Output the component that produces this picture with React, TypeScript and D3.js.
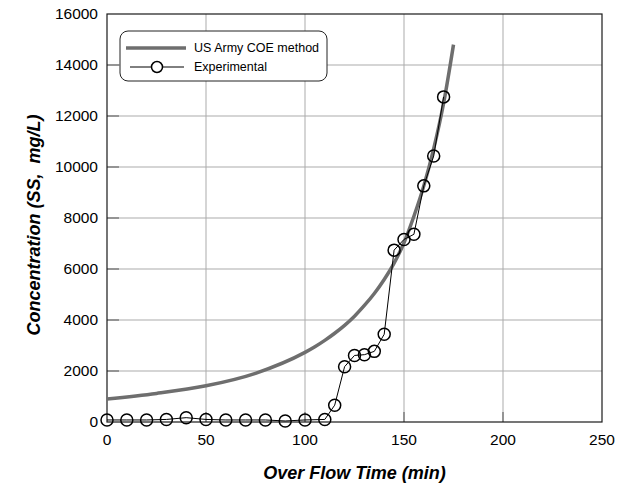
import React from "react";
import * as d3 from "d3";

const expTime = [0, 10, 20, 30, 40, 50, 60, 70, 80, 90, 100, 110, 115, 120, 125, 130, 135, 140, 145, 150, 155, 160, 165, 170];
const expConc = [80, 80, 80, 100, 170, 100, 80, 80, 80, 40, 80, 100, 660, 2170, 2610, 2640, 2770, 3440, 6740, 7160, 7360, 9260, 10430, 12750];

const coeTime = [0, 25, 50, 75, 100, 105, 110, 115, 120, 125, 130, 135, 140, 145, 150, 155, 160, 165, 170, 175];
const coeConc = [900, 1120, 1420, 1910, 2730, 2950, 3200, 3480, 3790, 4150, 4570, 5040, 5590, 6230, 7030, 8070, 9260, 10720, 12500, 14800];

const xTicks = [0, 50, 100, 150, 200, 250];
const yTicks = [0, 2000, 4000, 6000, 8000, 10000, 12000, 14000, 16000];

const legendLabels = ["US Army COE method", "Experimental"];
const xTitle = "Over Flow Time (min)";
const yTitle = "Concentration (SS,  mg/L)";

export default function App() {
  const W = 624, H = 486;
  const left = 107, right = 602, top = 14, bottom = 422;
  const x = d3.scaleLinear().domain([0, 250]).range([left, right]);
  const y = d3.scaleLinear().domain([0, 16000]).range([bottom, top]);

  const coeLine = d3.line<number>()
    .x((_, i) => x(coeTime[i]))
    .y((d) => y(d))
    .curve(d3.curveMonotoneX)(coeConc) || "";
  const expLine = d3.line<number>()
    .x((_, i) => x(expTime[i]))
    .y((d) => y(d))(expConc) || "";

  const font = "'Liberation Sans', Arial, sans-serif";
  const gridColor = "#ababab";
  const tickColor = "#6a6a6a";

  return (
    <svg width={W} height={H} style={{ position: "absolute", left: 0, top: 0, background: "#fff" }} fontFamily={font}>
      <rect x={0} y={0} width={W} height={H} fill="#fff" />
      {xTicks.slice(1, -1).map((t) => (
        <line key={"gx" + t} x1={x(t)} x2={x(t)} y1={top} y2={bottom} stroke={gridColor} strokeWidth={1} />
      ))}
      {yTicks.slice(1, -1).map((t) => (
        <line key={"gy" + t} x1={left} x2={right} y1={y(t)} y2={y(t)} stroke={gridColor} strokeWidth={1} />
      ))}
      {xTicks.slice(1, -1).map((t) => (
        <line key={"tx" + t} x1={x(t)} x2={x(t)} y1={bottom} y2={bottom - 10} stroke={tickColor} strokeWidth={1.2} />
      ))}
      {yTicks.slice(1, -1).map((t) => (
        <line key={"ty" + t} x1={left} x2={left + 12} y1={y(t)} y2={y(t)} stroke={tickColor} strokeWidth={1.2} />
      ))}
      <rect x={left} y={top} width={right - left} height={bottom - top} fill="none" stroke="#1a1a1a" strokeWidth={1.2} />
      {xTicks.map((t) => (
        <text key={"lx" + t} x={x(t)} y={445} textAnchor="middle" fontSize={15.5} fill="#000">{t}</text>
      ))}
      {yTicks.map((t) => (
        <text key={"ly" + t} x={98} y={y(t)} dy="0.35em" textAnchor="end" fontSize={15.5} fill="#000">{t}</text>
      ))}
      <text x={(left + right) / 2} y={479} textAnchor="middle" fontSize={18} fontWeight="bold" fontStyle="italic">{xTitle}</text>
      <text transform={`translate(40,${(top + bottom) / 2 + 7}) rotate(-90)`} textAnchor="middle" fontSize={18} fontWeight="bold" fontStyle="italic" style={{ whiteSpace: "pre" }}>{yTitle}</text>
      <path d={coeLine} fill="none" stroke="#6e6e6e" strokeWidth={3.5} />
      <path d={expLine} fill="none" stroke="#000" strokeWidth={1} />
      {expConc.map((v, i) => (
        <circle key={"c" + i} cx={x(expTime[i])} cy={y(v)} r={6} fill="none" stroke="#000" strokeWidth={1.5} />
      ))}
      <rect x={120} y={31} width={207} height={50} rx={8} ry={8} fill="#fff" stroke="#222" strokeWidth={1} />
      <line x1={126} x2={186} y1={48} y2={48} stroke="#6e6e6e" strokeWidth={3.5} />
      <text x={194} y={48} dy="0.35em" fontSize={12.5}>{legendLabels[0]}</text>
      <line x1={130} x2={184} y1={67} y2={67} stroke="#000" strokeWidth={1} />
      <circle cx={157} cy={67} r={5.5} fill="#fff" stroke="#000" strokeWidth={1.5} />
      <text x={194} y={67} dy="0.35em" fontSize={12.5}>{legendLabels[1]}</text>
    </svg>
  );
}
